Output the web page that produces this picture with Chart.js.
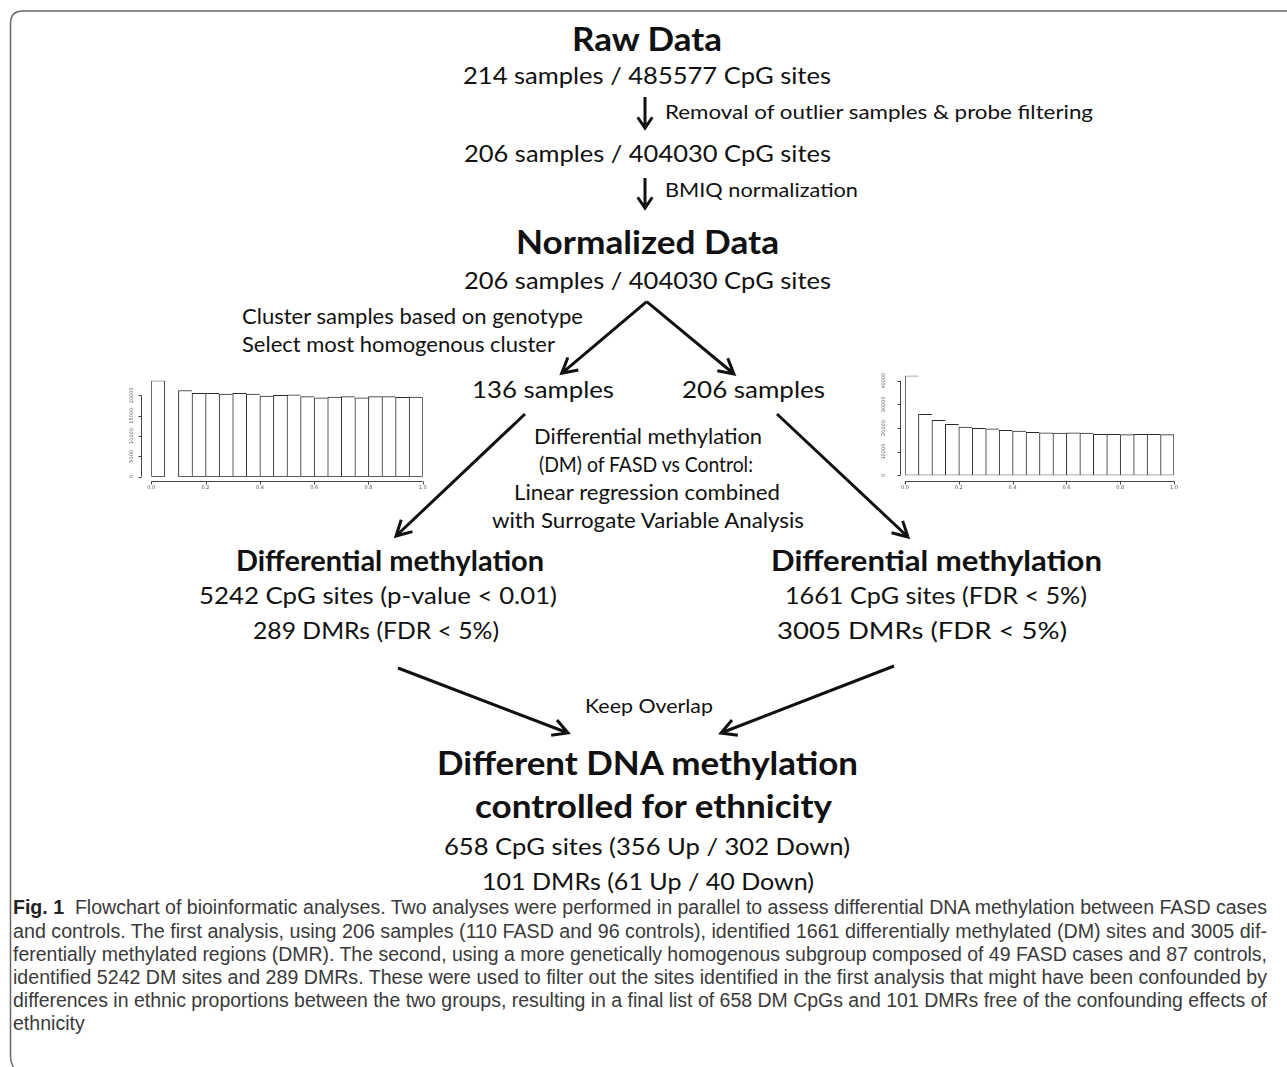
<!DOCTYPE html>
<html>
<head>
<meta charset="utf-8">
<script src="https://cdn.jsdelivr.net/npm/chart.js@4.4.1/dist/chart.umd.min.js"></script>
<style>
  html, body { margin: 0; padding: 0; background: #fff; }
  #page { position: relative; width: 1287px; height: 1067px; overflow: hidden; background: #fff; }
  .t { position: absolute; white-space: nowrap; line-height: 1; transform-origin: 0 0; color: #111;
       font-family: Lato, "Open Sans", sans-serif; }
  .cap { position: absolute; white-space: nowrap; line-height: 1; transform-origin: 0 0; color: #3a3a3a;
         font-family: "Liberation Sans", Arial, sans-serif; font-size: 20px; }
  .cap b { color: #222; }
  canvas { position: absolute; }
  svg { position: absolute; left: 0; top: 0; }
</style>
</head>
<body>
<div id="page">
  <svg id="lines" width="1287" height="1067"></svg>
  <canvas id="histLeft" width="325" height="125" style="left:110px;top:370px"></canvas>
  <canvas id="histRight" width="330" height="130" style="left:860px;top:365px"></canvas>
</div>
<script>
// ---- Histogram data: p-value distributions (20 bins of width 0.05) ----
const binMids = [0.025, 0.075, 0.125, 0.175, 0.225, 0.275, 0.325, 0.375, 0.425, 0.475,
                 0.525, 0.575, 0.625, 0.675, 0.725, 0.775, 0.825, 0.875, 0.925, 0.975];
// 136-sample analysis (second bin not drawn)
const countsSubgroup = [23600, null, 21200, 20500, 20500, 20300, 20500, 20300, 19800, 20000,
                        20100, 19700, 19400, 19600, 19700, 19400, 19700, 19700, 19500, 19600];
// 206-sample analysis
const countsAll = [42100, 25800, 23200, 21500, 20400, 19900, 19600, 19000, 18700, 18200,
                   18000, 17800, 18000, 17800, 17300, 17300, 17200, 17300, 17300, 17200];
const xTickValues = [0, 0.2, 0.4, 0.6, 0.8, 1.0];
const xTickLabels = ['0.0', '0.2', '0.4', '0.6', '0.8', '1.0'];
const yTicksSubgroup = [0, 5000, 10000, 15000, 20000];
const yTicksAll = [0, 10000, 20000, 30000, 40000];

// ---- R-style detached axes drawn from the chart's scales ----
const rAxes = {
  id: 'rAxes',
  afterDraw(chart, args, o) {
    const { ctx, chartArea, scales: { x, y } } = chart;
    ctx.save();
    ctx.strokeStyle = '#444';
    ctx.lineWidth = 1;
    ctx.fillStyle = '#555';
    ctx.font = o.fontSize + 'px "DejaVu Sans", sans-serif';
    // x axis
    const ay = Math.round(chartArea.bottom + o.xGap) + 0.5;
    ctx.beginPath();
    ctx.moveTo(x.getPixelForValue(o.xTicks[0]), ay);
    ctx.lineTo(x.getPixelForValue(o.xTicks[o.xTicks.length - 1]), ay);
    o.xTicks.forEach(v => {
      const px = Math.round(x.getPixelForValue(v)) + 0.5;
      ctx.moveTo(px, ay); ctx.lineTo(px, ay + 3);
    });
    ctx.stroke();
    ctx.textAlign = 'center';
    ctx.textBaseline = 'top';
    o.xTicks.forEach((v, i) => ctx.fillText(o.xLabels[i], x.getPixelForValue(v), ay + 4));
    // y axis
    const ax = Math.round(chartArea.left - o.yGap) + 0.5;
    ctx.beginPath();
    ctx.moveTo(ax, y.getPixelForValue(o.yTicks[0]));
    ctx.lineTo(ax, y.getPixelForValue(o.yTicks[o.yTicks.length - 1]));
    o.yTicks.forEach(v => {
      const py = Math.round(y.getPixelForValue(v)) + 0.5;
      ctx.moveTo(ax, py); ctx.lineTo(ax - 3, py);
    });
    ctx.stroke();
    o.yTicks.forEach(v => {
      ctx.save();
      ctx.translate(ax - o.yLabelGap, y.getPixelForValue(v));
      ctx.rotate(-Math.PI / 2);
      ctx.textAlign = 'center';
      ctx.textBaseline = 'middle';
      ctx.fillText(String(v), 0, 0);
      ctx.restore();
    });
    ctx.restore();
  }
};

function makeHist(id, counts, yTicks, padding, axes) {
  const peak = Math.max(...counts.filter(v => v !== null));
  return new Chart(document.getElementById(id), {
    type: 'bar',
    data: {
      datasets: [{
        data: binMids.map((m, i) => ({ x: m, y: counts[i] })),
        backgroundColor: '#ffffff',
        borderColor: '#2a2a2a',
        borderSkipped: false,
        borderWidth: c => ({
          top: 1, left: 1, bottom: 1,
          right: (c.dataIndex === counts.length - 1 || counts[c.dataIndex + 1] === null) ? 1 : 0
        }),
        barPercentage: 1,
        categoryPercentage: 1
      }]
    },
    options: {
      responsive: false,
      animation: false,
      devicePixelRatio: 1,
      layout: { padding },
      plugins: {
        legend: { display: false },
        tooltip: { enabled: false },
        rAxes: Object.assign({ xTicks: xTickValues, xLabels: xTickLabels, yTicks, fontSize: 5 }, axes)
      },
      scales: {
        x: { type: 'linear', min: 0, max: 1, offset: false, display: false, ticks: { stepSize: 0.2 } },
        y: { min: 0, max: peak, display: false }
      }
    },
    plugins: [rAxes]
  });
}

makeHist('histLeft', countsSubgroup, yTicksSubgroup,
  { left: 41.3, right: 12.3, top: 10.7, bottom: 18.3 },
  { xGap: 4.3, yGap: 10.3, yLabelGap: 9.5 });
makeHist('histRight', countsAll, yTicksAll,
  { left: 45, right: 16, top: 10.7, bottom: 19.7 },
  { xGap: 5.4, yGap: 5, yLabelGap: 17 });

// ---- Flowchart text ----
const page = document.getElementById('page');
const texts = [
  { s: 'Raw Data', x: 647, cy: 40, size: 32, bold: true, w: 150 },
  { s: '214 samples / 485577 CpG sites', x: 647, cy: 76, size: 23, w: 368 },
  { s: 'Removal of outlier samples & probe filtering', x: 665, cy: 112, size: 20, w: 428, left: true },
  { s: '206 samples / 404030 CpG sites', x: 647, cy: 154, size: 23, w: 367 },
  { s: 'BMIQ normalization', x: 665, cy: 190, size: 20, w: 193, left: true },
  { s: 'Normalized Data', x: 647, cy: 242.5, size: 32, bold: true, w: 263 },
  { s: '206 samples / 404030 CpG sites', x: 647, cy: 281.5, size: 23, w: 367 },
  { s: 'Cluster samples based on genotype', x: 241.5, cy: 316, size: 21, w: 341, left: true },
  { s: 'Select most homogenous cluster', x: 241.5, cy: 344, size: 21, w: 313, left: true },
  { s: '136 samples', x: 543, cy: 390, size: 23, w: 142 },
  { s: '206 samples', x: 753, cy: 390, size: 23, w: 143 },
  { s: 'Differential methylation', x: 648, cy: 436, size: 21, w: 228 },
  { s: '(DM) of FASD vs Control:', x: 646, cy: 464, size: 21, w: 214 },
  { s: 'Linear regression combined', x: 647, cy: 492, size: 21, w: 266 },
  { s: 'with Surrogate Variable Analysis', x: 648, cy: 520, size: 21, w: 312 },
  { s: 'Differential methylation', x: 390, cy: 561, size: 28, bold: true, w: 308 },
  { s: '5242 CpG sites (p-value < 0.01)', x: 378, cy: 596, size: 23, w: 358 },
  { s: '289 DMRs (FDR < 5%)', x: 376, cy: 631, size: 23, w: 246 },
  { s: 'Differential methylation', x: 936, cy: 561, size: 28, bold: true, w: 331 },
  { s: '1661 CpG sites (FDR < 5%)', x: 936, cy: 596, size: 23, w: 302 },
  { s: '3005 DMRs (FDR < 5%)', x: 922, cy: 631, size: 23, w: 290 },
  { s: 'Keep Overlap', x: 649, cy: 706, size: 19, w: 128 },
  { s: 'Different DNA methylation', x: 647, cy: 763, size: 33, bold: true, w: 421 },
  { s: 'controlled for ethnicity', x: 653, cy: 806, size: 33, bold: true, w: 357 },
  { s: '658 CpG sites (356 Up / 302 Down)', x: 647, cy: 847, size: 23, w: 406 },
  { s: '101 DMRs (61 Up / 40 Down)', x: 648, cy: 882, size: 23, w: 332 }
];
texts.forEach(t => {
  const el = document.createElement('div');
  el.className = 't';
  el.textContent = t.s;
  el.style.fontSize = t.size + 'px';
  el.style.fontWeight = t.bold ? '700' : '400';
  page.appendChild(el);
  const natural = el.getBoundingClientRect().width;
  el.style.transform = 'scaleX(' + (t.w / natural) + ')';
  el.style.left = (t.left ? t.x : t.x - t.w / 2) + 'px';
  el.style.top = (t.cy - 0.53 * t.size) + 'px';
});

// ---- Caption ----
const captionLines = [
  '<b>Fig. 1</b>&nbsp;&nbsp;Flowchart of bioinformatic analyses. Two analyses were performed in parallel to assess differential DNA methylation between FASD cases',
  'and controls. The first analysis, using 206 samples (110 FASD and 96 controls), identified 1661 differentially methylated (DM) sites and 3005 dif-',
  'ferentially methylated regions (DMR). The second, using a more genetically homogenous subgroup composed of 49 FASD cases and 87 controls,',
  'identified 5242 DM sites and 289 DMRs. These were used to filter out the sites identified in the first analysis that might have been confounded by',
  'differences in ethnic proportions between the two groups, resulting in a final list of 658 DM CpGs and 101 DMRs free of the confounding effects of',
  'ethnicity'
];
const capSize = 20, capLeft = 13, capRight = 1267, capTop = 908, capStep = 23.2;
let kSum = 0;
captionLines.forEach((html, i) => {
  const el = document.createElement('div');
  el.className = 'cap';
  el.innerHTML = html;
  page.appendChild(el);
  const natural = el.getBoundingClientRect().width;
  let k;
  if (i < captionLines.length - 1) { k = (capRight - capLeft) / natural; kSum += k; }
  else { k = kSum / (captionLines.length - 1); }
  el.style.transform = 'scaleX(' + k + ')';
  el.style.left = capLeft + 'px';
  el.style.top = (capTop + i * capStep - 0.53 * capSize) + 'px';
});

// ---- Arrows and frame ----
const svg = document.getElementById('lines');
const NS = 'http://www.w3.org/2000/svg';
function add(tag, attrs) {
  const e = document.createElementNS(NS, tag);
  for (const k in attrs) e.setAttribute(k, attrs[k]);
  svg.appendChild(e);
  return e;
}
function arrow(x1, y1, x2, y2, sw, head, spread) {
  const a = Math.atan2(y2 - y1, x2 - x1);
  const h1x = x2 - head * Math.cos(a - spread), h1y = y2 - head * Math.sin(a - spread);
  const h2x = x2 - head * Math.cos(a + spread), h2y = y2 - head * Math.sin(a + spread);
  add('path', {
    d: `M${x1},${y1} L${x2},${y2} M${h1x},${h1y} L${x2},${y2} L${h2x},${h2y}`,
    stroke: '#111', 'stroke-width': sw, fill: 'none', 'stroke-linejoin': 'miter', 'stroke-linecap': 'butt'
  });
}
arrow(645, 97, 645, 128, 3, 13, 0.6);
arrow(645, 178, 645, 208, 3, 13, 0.6);
arrow(646.7, 301.7, 561.7, 373.3, 3, 17, 0.5);
arrow(646.7, 301.7, 734, 374, 3, 17, 0.5);
arrow(525, 414, 396, 536, 3, 17, 0.5);
arrow(777, 414, 908, 537, 3, 17, 0.5);
arrow(398, 668, 568, 733, 3, 17, 0.5);
arrow(894, 666, 721, 733, 3, 17, 0.5);

add('path', {
  d: 'M1290,11 L23,11 Q10.5,11 10.5,23.5 L10.5,1056 Q10.5,1063 14,1068',
  stroke: '#666', 'stroke-width': 1.5, fill: 'none'
});
</script>
</body>
</html>
